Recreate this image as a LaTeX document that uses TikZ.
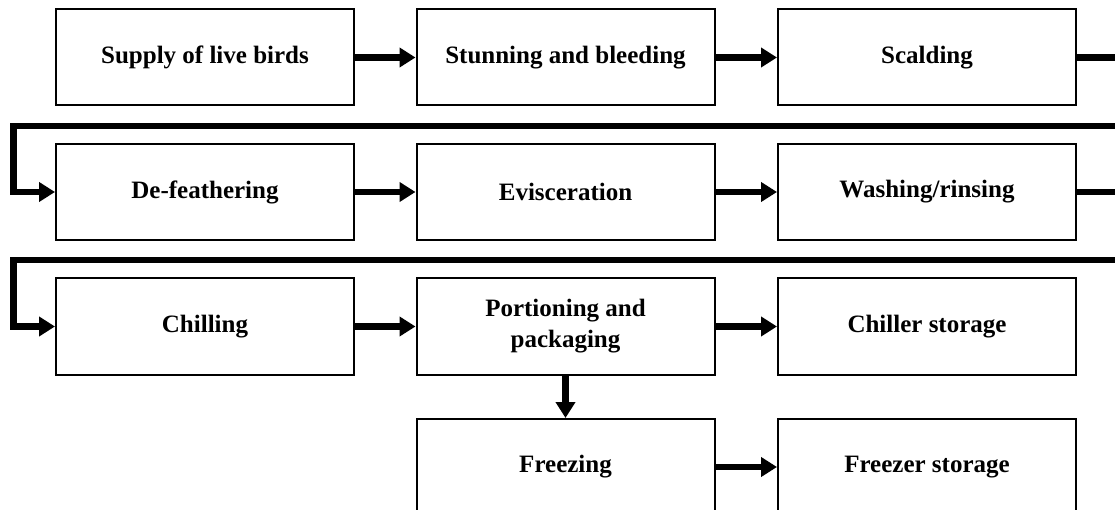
\documentclass[tikz,border=0pt]{standalone}
\usepackage{fontspec}
\setmainfont{Liberation Serif}
\usetikzlibrary{arrows.meta}
\begin{document}
\begin{tikzpicture}[x=1pt,y=-1pt,
  box/.style={draw, line width=2pt, minimum width=298pt, minimum height=96pt,
    inner sep=0pt, align=center, font=\bfseries\fontsize{25}{31}\selectfont},
  flow/.style={line width=6.5pt, line join=miter, -{Triangle[length=16pt,width=19pt]}}]
\useasboundingbox (0,0) rectangle (1115,510);
\clip (0,0) rectangle (1115,510);
% row 1
\node[box] (b1) at (205,57.5) {Supply of live birds};
\node[box] (b2) at (565.5,57.5) {Stunning and bleeding};
\node[box] (b3) at (927,57.5) {Scalding};
% row 2
\node[box] (b4) at (205,192) {De-feathering};
\node[box] (b5) at (565.5,192) {Evisceration};
\node[box] (b6) at (927,192) {Washing/rinsing};
% row 3
\node[box] (b7) at (205,326.5) {Chilling};
\node[box] (b8) at (565.5,326.5) {Portioning and\\packaging};
\node[box] (b9) at (927,326.5) {Chiller storage};
% row 4
\node[box] (b10) at (565.5,467) {Freezing};
\node[box] (b11) at (927,467) {Freezer storage};
% return-line corners
\coordinate (r1) at (1140,126);
\coordinate (l1) at (13.5,126);
\coordinate (r2) at (1140,260);
\coordinate (l2) at (13.5,260);
% connectors
\draw[flow] (b1.east) -- (b2.west);
\draw[flow] (b2.east) -- (b3.west);
\draw[flow] (b3.east) -| (r1) -- (l1) |- (b4.west);
\draw[flow] (b4.east) -- (b5.west);
\draw[flow] (b5.east) -- (b6.west);
\draw[flow] (b6.east) -| (r2) -- (l2) |- (b7.west);
\draw[flow] (b7.east) -- (b8.west);
\draw[flow] (b8.east) -- (b9.west);
\draw[flow] (b8.south) -- (b10.north);
\draw[flow] (b10.east) -- (b11.west);
\end{tikzpicture}
\end{document}
